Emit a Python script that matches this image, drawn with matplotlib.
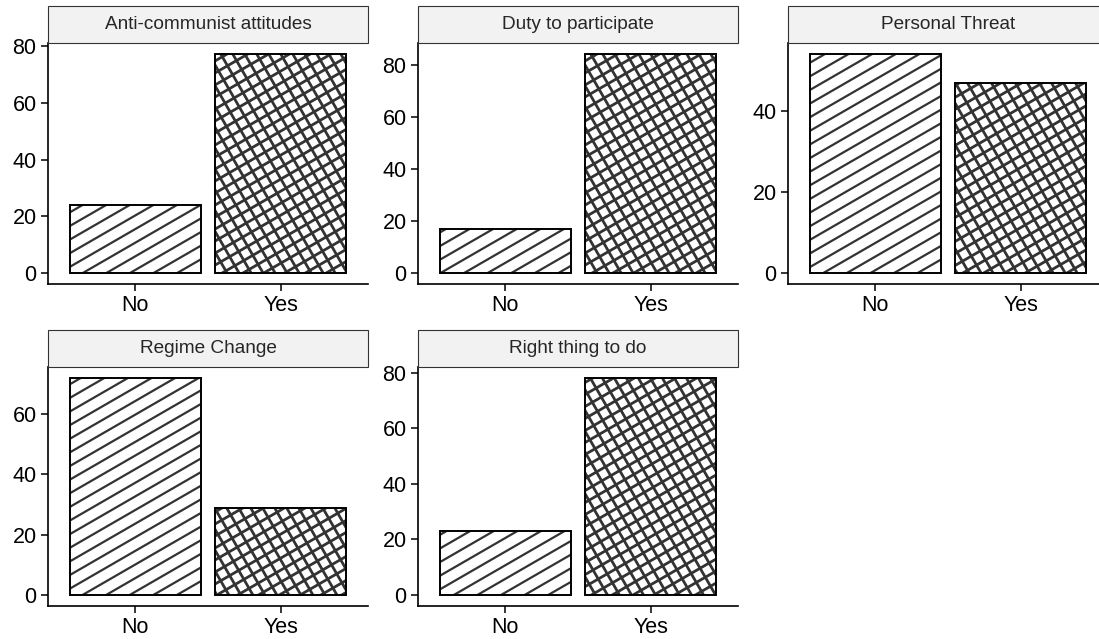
#!/usr/bin/env python3
"""
Faceted bar chart of No/Yes shares per motivation, with stripe and
crosshatch fills on the bars.
"""

import numpy as np
import matplotlib
matplotlib.use('Agg')
import matplotlib.pyplot as plt
from matplotlib.collections import LineCollection
from matplotlib.patches import Rectangle
from matplotlib.ticker import MultipleLocator
from matplotlib.transforms import IdentityTransform

plt.rcParams['font.family'] = ['Liberation Sans', 'DejaVu Sans']

# Data
facets = ['Anti-communist attitudes', 'Duty to participate', 'Personal Threat',
          'Regime Change', 'Right thing to do']
answers = ['No', 'Yes']
no_values = [24, 17, 54, 72, 23]
yes_values = [77, 84, 47, 29, 78]

W, H = 1099, 639
DPI = 100

# panel geometry in pixels (top-left origin)
col_left = [47.7, 417.7, 787.7]
panel_w = 320.5
rows = [(43.3, 284.3), (367.3, 605.7)]
strip_h = 37.0


def add_pattern(ax, bar, angles, spacing, color='#333333', lw=1.6):
    """Draw parallel lines at the given angles, clipped to the bar."""
    bb = bar.get_window_extent()
    cx, cy = bb.x0 + bb.width / 2, bb.y0 + bb.height / 2
    R = np.hypot(bb.width, bb.height) / 2 + spacing
    segs = []
    for ang in angles:
        th = np.radians(ang)
        dx, dy = np.cos(th), np.sin(th)
        nx, ny = -dy, dx
        for k in np.arange(-R, R + spacing, spacing):
            px, py = cx + k * nx, cy + k * ny
            segs.append([(px - R * dx, py - R * dy), (px + R * dx, py + R * dy)])
    lc = LineCollection(segs, colors=color, linewidths=lw,
                        transform=IdentityTransform(), zorder=3)
    ax.add_collection(lc, autolim=False)
    lc.set_clip_path(bar)


fig = plt.figure(figsize=(W / DPI, H / DPI), dpi=DPI)

for i, name in enumerate(facets):
    r, c = divmod(i, 3)
    top, bottom = rows[r]
    ax = fig.add_axes([col_left[c] / W, 1 - bottom / H,
                       panel_w / W, (bottom - top) / H])

    vals = [no_values[i], yes_values[i]]
    x = np.arange(1, len(answers) + 1)
    ymax = max(vals)
    ax.set_xlim(0.4, 2.6)
    ax.set_ylim(-0.05 * ymax, 1.05 * ymax)

    bars = ax.bar(x, vals, width=0.9, color='white', edgecolor='none', zorder=2)
    ax.bar(x, vals, width=0.9, fill=False, edgecolor='black', linewidth=1.4, zorder=4)

    # stripes on "No", crosshatch on "Yes"
    add_pattern(ax, bars[0], [30], 11.8, lw=1.6)
    add_pattern(ax, bars[1], [30, 120], 10.4, lw=2.0)

    ax.set_xticks(x)
    ax.set_xticklabels(answers)
    ax.yaxis.set_major_locator(MultipleLocator(20))
    ax.tick_params(axis='both', labelsize=15.5, length=5, width=1.1,
                   colors='black', pad=3)

    for side in ['top', 'right']:
        ax.spines[side].set_visible(False)
    for side in ['left', 'bottom']:
        ax.spines[side].set_linewidth(1.2)
        ax.spines[side].set_color('black')

    # facet strip above the panel
    sh = strip_h / (bottom - top)
    ax.add_patch(Rectangle((0, 1), 1, sh, transform=ax.transAxes,
                           facecolor='#f2f2f2', edgecolor='#333333',
                           linewidth=0.8, clip_on=False, zorder=5))
    ax.text(0.5, 1 + sh / 2, name, transform=ax.transAxes, ha='center',
            va='center', fontsize=13.7, color='#262626', zorder=6)

fig.savefig('out.png', dpi=DPI)
plt.close(fig)
